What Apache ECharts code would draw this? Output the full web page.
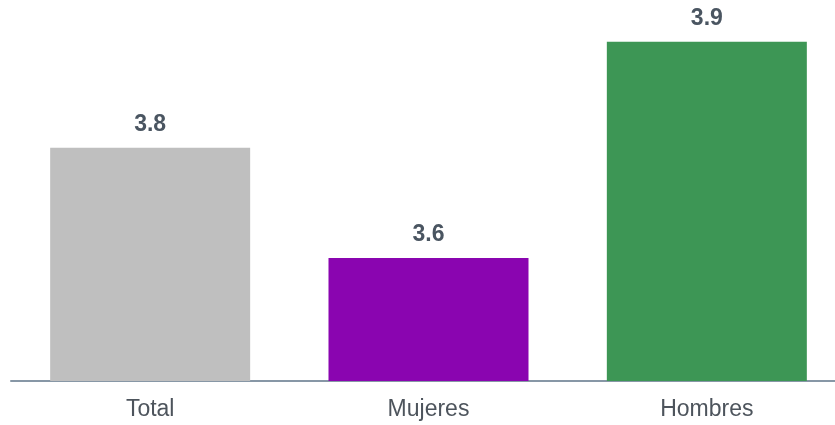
<!DOCTYPE html>
<html>
<head>
<meta charset="utf-8">
<script src="https://cdn.jsdelivr.net/npm/echarts@6/dist/echarts.min.js"></script>
<style>html,body{margin:0;padding:0;background:#fff;overflow:hidden}#c{width:846px;height:425px}</style>
</head>
<body>
<div id="c"></div>
<script>
const categories = ['Total', 'Mujeres', 'Hombres'];
const values = [3.759, 3.566, 3.945];
const colors = ['#bfbfbf', '#8a05b0', '#3d9655'];

const chart = echarts.init(document.getElementById('c'), null, {renderer: 'canvas'});
chart.setOption({
  animation: false,
  grid: {left: 11, right: 0, top: 39, bottom: 44, containLabel: false},
  xAxis: {
    type: 'category',
    data: categories,
    axisLine: {lineStyle: {color: '#8797a6', width: 2}},
    axisTick: {show: false},
    axisLabel: {color: '#4d545c', fontSize: 23, fontFamily: 'Liberation Sans, Arial, sans-serif', margin: 17}
  },
  yAxis: {
    type: 'value', min: 3.35, max: 3.95,
    show: false, splitLine: {show: false}
  },
  series: [{
    type: 'bar',
    barWidth: 200,
    data: values.map((v, i) => ({value: v, itemStyle: {color: colors[i]}})),
    label: {
      show: true, position: 'top', distance: 12,
      formatter: p => p.value.toFixed(1),
      color: '#4a5561', fontSize: 23, fontWeight: 'bold',
      fontFamily: 'Liberation Sans, Arial, sans-serif'
    }
  }]
});
</script>
</body>
</html>
